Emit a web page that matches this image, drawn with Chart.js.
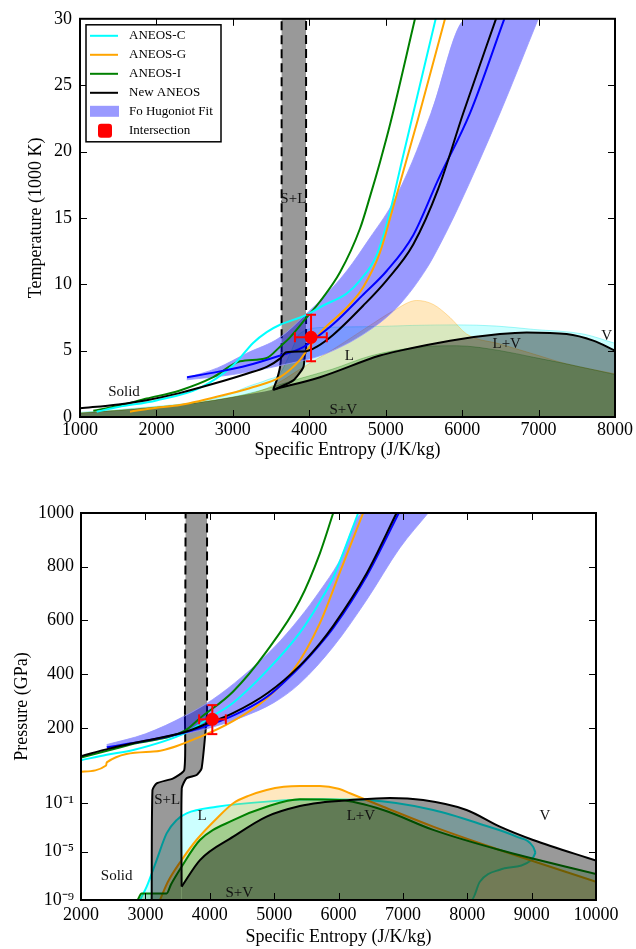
<!DOCTYPE html>
<html>
<head>
<meta charset="utf-8">
<script src="https://cdn.jsdelivr.net/npm/chart.js@4.4.1/dist/chart.umd.min.js"></script>
<style>
html, body { margin: 0; padding: 0; background: #fff; }
#wrap { position: relative; width: 636px; height: 949px; }
canvas { position: absolute; left: 0; }
#top { top: 0; }
#bot { top: 470px; }
</style>
</head>
<body>
<div id="wrap">
  <canvas id="top" width="636" height="470"></canvas>
  <canvas id="bot" width="636" height="479"></canvas>
</div>
<script>
// names + colours
const modelNames = ['ANEOS-C', 'ANEOS-G', 'ANEOS-I', 'New ANEOS'];
const fitName = 'Fo Hugoniot Fit';
const pointName = 'Intersection';
const modelCols = ['#00ffff', '#ffa500', '#008000', '#000000'];
const domeFill = ['rgba(0,255,255,0.2)', 'rgba(255,165,0,0.25)', 'rgba(0,128,0,0.25)', 'rgba(0,0,0,0.4)'];
const domeEdge = ['rgba(0,230,230,0.35)', 'rgba(255,165,0,0.35)', 'rgba(0,128,0,0.3)', 'rgba(0,0,0,0)'];
const fitCol = '#0000ff';
const fitBand = 'rgba(0,0,255,0.4)';
const slGray = 'rgba(0,0,0,0.4)';
const red = '#ff0000';
const xTitle = 'Specific Entropy (J/K/kg)';

// ---------- top panel: T (1000 K) vs S ----------
const tHugC_S = [1218, 1500, 2000, 2570, 3006, 3268, 3443, 3617, 3966, 4183, 4489, 4664, 4882, 5056, 5208, 5654];
const tHugC_T = [0.4, 0.75, 1.25, 2.2, 3.9, 5.6, 6.4, 6.95, 7.7, 8.4, 9.3, 10.3, 12.2, 15.45, 19.2, 30];
const tHugG_S = [1654, 2000, 2308, 2963, 3268, 3617, 3878, 3966, 4183, 4489, 4707, 4925, 5080, 5420, 5776];
const tHugG_T = [0.4, 0.7, 0.9, 1.77, 2.26, 3.0, 4.3, 5.0, 6.6, 8.23, 9.8, 12.4, 15.45, 22.4, 30];
const tHugI_S = [1174, 1500, 1872, 2308, 2744, 3094, 3443, 3617, 3748, 3966, 4140, 4402, 4664, 4794, 4925, 5064, 5383];
const tHugI_T = [0.47, 0.85, 1.39, 2.0, 3.0, 4.2, 4.45, 5.3, 6.0, 7.5, 8.7, 10.9, 14.2, 16.6, 19.2, 22.2, 30];
const tHugN_S = [1000, 1500, 1872, 2300, 2744, 3181, 3450, 3617, 3700, 3958, 4100, 4314, 4707, 5012, 5360, 5688, 6015, 6443];
const tHugN_T = [0.65, 0.95, 1.27, 1.8, 2.5, 3.26, 3.8, 4.4, 4.87, 4.95, 5.3, 6.2, 8.4, 10.3, 13.0, 17.2, 22.9, 30];
const tFit_S = [2400, 2800, 3200, 3600, 3900, 4096, 4314, 4707, 5012, 5360, 5688, 6103, 6552];
const tFit_T = [3.0, 3.4, 3.9, 4.6, 5.2, 6.0, 7.0, 9.23, 11.0, 13.7, 17.9, 22.9, 30];
const tBandHi_S = [2396, 2800, 3181, 3617, 3966, 4183, 4489, 4794, 5080, 5345, 5593, 6059, 6996];
const tBandHi_T = [2.95, 3.7, 4.8, 6.0, 7.8, 9.0, 11.0, 13.5, 16.0, 19.2, 22.9, 30, 30];
const tBandLo_S = [2396, 3000, 3617, 4227, 4838, 5187, 5536, 5710, 5950, 6496, 6996];
const tBandLo_T = [2.8, 3.2, 3.88, 4.8, 6.74, 8.5, 11.2, 13.0, 15.8, 22.9, 30];
// phase regions (filled down to T = 0)
const tDomeC_S = [1000, 1500, 2000, 2500, 2900, 3200, 3450, 3620, 3750, 3880, 4200, 4750, 5350, 5930, 6450, 6930, 7585, 8000];
const tDomeC_T = [0.35, 0.55, 0.8, 1.1, 1.6, 2.3, 2.8, 3.3, 4.8, 6.3, 6.75, 6.8, 6.9, 6.94, 6.85, 6.6, 6.25, 5.55];
const tDomeG_S = [1000, 1500, 2000, 2500, 3000, 3300, 3600, 3878, 4314, 4751, 5100, 5405, 5622, 5841, 6059, 6495, 6931, 7367, 8000];
const tDomeG_T = [0.3, 0.5, 0.75, 1.05, 1.5, 1.85, 2.6, 3.6, 5.1, 6.74, 8.0, 8.78, 8.48, 7.5, 6.25, 5.5, 4.75, 4.0, 3.25];
const tDomeI_S = [1000, 1500, 2000, 2500, 3000, 3300, 3878, 4300, 4800, 5405, 5928, 6495, 6931, 7367, 8000];
const tDomeI_T = [0.3, 0.5, 0.75, 1.05, 1.5, 1.9, 2.9, 3.6, 4.6, 5.25, 5.37, 5.0, 4.5, 4.0, 3.2];
const tDomeN_S = [1000, 1500, 2000, 2500, 3000, 3300, 3530, 4141, 4925, 5187, 5841, 6495, 6844, 7367, 7716, 8000];
const tDomeN_T = [0.3, 0.5, 0.75, 1.05, 1.5, 1.8, 2.07, 3.0, 4.63, 5.0, 5.75, 6.25, 6.37, 6.25, 5.75, 5.0];
// S+L region of New ANEOS (upper and lower outline)
const tSLhi_S = [3530, 3573, 3617, 3638, 3638, 3958];
const tSLhi_T = [2.07, 2.76, 3.75, 4.87, 30, 30];
const tSLlo_S = [3530, 3573, 3791, 3922, 3944, 3958, 3958];
const tSLlo_T = [2.07, 2.14, 2.76, 3.75, 4.75, 4.9, 30];
// intersection point
const tPt = [4023, 6.0];
const tPtErrS = [3812, 4229];
const tPtErrT = [4.2, 7.7];
const topNoteText = ['S+L', 'Solid', 'L', 'S+V', 'L+V', 'V'];
const topNoteS = [3791, 1576, 4524, 4445, 6583, 7891];
const topNoteT = [16.4, 1.9, 4.6, 0.52, 5.5, 6.1];

// ---------- bottom panel: P (GPa) vs S ----------
const pHugC_S = [2000, 2400, 2812, 3615, 4000, 4360, 4900, 5400, 5711, 5918, 6306];
const pHugC_P = [80, 100, 118, 181, 238, 293, 416, 555, 670, 760, 1000];
const pHugG_S = [2000, 2390, 2400, 3123, 3850, 4360, 4883, 5300, 5711, 6022, 6383];
const pHugG_P = [37, 60, 72, 112, 167, 225, 310, 415, 590, 780, 1000];
const pHugI_S = [2000, 2450, 2800, 3615, 3850, 4360, 4883, 5400, 5711, 5918];
const pHugI_P = [90, 118, 140, 190, 237, 335, 485, 675, 850, 1000];
const pHugN_S = [2000, 2450, 2807, 3615, 3950, 4360, 4900, 5400, 5711, 5918, 6436, 6902];
const pHugN_P = [95, 124, 143, 185, 215, 255, 330, 432, 515, 580, 775, 1000];
const pFit_S = [2400, 3000, 3600, 4040, 4500, 4900, 5400, 5711, 5918, 6436, 6937];
const pFit_P = [128, 152, 182, 215, 262, 318, 428, 510, 572, 765, 1000];
const pBandHi_S = [2398, 3000, 3615, 4040, 4500, 5000, 5400, 5711, 6000, 6380, 7393];
const pBandHi_P = [138, 178, 245, 305, 390, 500, 610, 710, 815, 1000, 1000];
const pBandLo_S = [2398, 3000, 3615, 4040, 4500, 5000, 5400, 5918, 6436, 6953, 7393];
const pBandLo_P = [132, 148, 178, 203, 240, 295, 366, 502, 676, 870, 1000];
const pDomeC_S = [2916, 3020, 3175, 3330, 3485, 3640, 4106, 4883, 5711, 6436, 7471, 8247, 8765, 9023, 9060];
const pDomeC_P = [1e-9, 1.26e-8, 2e-6, 3.2e-4, 4e-3, 0.0145, 0.05, 0.135, 0.21, 0.18, 0.0275, 1.6e-3, 1.7e-4, 2.5e-5, 7.9e-6];
const pDomeCLo_S = [2916, 8067, 8196, 8506, 8998, 9060];
const pDomeCLo_P = [1e-9, 1e-9, 3.2e-8, 3.2e-7, 2e-6, 7.9e-6];
const pDomeG_S = [3227, 3350, 3563, 3800, 4100, 4365, 4600, 4883, 5150, 5400, 5711, 6000, 6177, 6694, 7471, 8506, 10000];
const pDomeG_P = [1e-9, 3.2e-8, 2e-6, 1e-4, 5e-3, 0.1, 0.4, 1.23, 2.24, 2.63, 2.63, 1.58, 0.66, 0.051, 1.15e-3, 1.35e-5, 3.2e-8];
const pDomeI_S = [2880, 2942, 3330, 3400, 3563, 3848, 4365, 4883, 5400, 6022, 6694, 7471, 8506, 10000];
const pDomeI_P = [1e-9, 3.5e-9, 3.5e-9, 2e-8, 5.6e-7, 9e-5, 4e-3, 0.051, 0.21, 0.18, 0.0275, 6.2e-4, 1.35e-5, 1.4e-7];
const pDomeN_S = [3563, 3848, 4365, 4883, 5400, 5711, 6177, 6798, 7315, 7989, 8506, 9023, 10000];
const pDomeN_P = [1.26e-8, 2e-6, 1.7e-4, 7.9e-3, 0.059, 0.11, 0.18, 0.27, 0.18, 0.0275, 1.15e-3, 9.1e-5, 1.8e-6];
const pSLhi_S = [3098, 3110, 3175, 3433, 3604, 3615, 3625, 3958];
const pSLhi_P = [1e-9, 1.2, 4.4, 12.6, 43.5, 250, 1000, 1000];
const pSLlo_S = [3098, 3563, 3563, 3565, 3640, 3796, 3874, 3958, 3958];
const pSLlo_P = [1e-9, 1e-9, 1.3e-8, 1.7, 12.6, 25, 50, 250, 1000];
const pPt = [4040, 232];
const pPtErrS = [3835, 4250];
const pPtErrP = [177, 285];
const botNoteText = ['S+L', 'L', 'Solid', 'S+V', 'L+V', 'V'];
const botNoteS = [3340, 3879, 2554, 4458, 6348, 9205];
const botNoteP = [0.18, 0.008, 1e-7, 4e-9, 0.008, 0.0087];
// y axis of the pressure panel: log below 10 GPa, linear above
const pTickVals = [1e-9, 1e-5, 1e-1, 200, 400, 600, 800, 1000];
const pTickText = ['10\u207B\u2079', '10\u207B\u2075', '10\u207B\u00B9', '200', '400', '600', '800', '1000'];
const P_MIN = 1e-9, P_BREAK = 10, P_MAX = 1000, LOG_FRAC = 121 / 387;

class BrokenScale extends Chart.LinearScale {
  determineDataLimits() { this.min = P_MIN; this.max = P_MAX; }
  buildTicks() { return pTickVals.map(v => ({ value: v })); }
  getPixelForValue(v) {
    const h = this.bottom - this.top, hl = h * LOG_FRAC;
    if (v <= P_BREAK) {
      const lv = Math.log10(Math.max(v, P_MIN / 1000));
      const lo = Math.log10(P_MIN), hi = Math.log10(P_BREAK);
      return this.bottom - (lv - lo) / (hi - lo) * hl;
    }
    return this.bottom - hl - (v - P_BREAK) / (P_MAX - P_BREAK) * (h - hl);
  }
  getValueForPixel(px) {
    const h = this.bottom - this.top, hl = h * LOG_FRAC, d = this.bottom - px;
    const lo = Math.log10(P_MIN), hi = Math.log10(P_BREAK);
    if (d <= hl) return Math.pow(10, lo + d / hl * (hi - lo));
    return P_BREAK + (d - hl) / (h - hl) * (P_MAX - P_BREAK);
  }
}
BrokenScale.id = 'broken';
BrokenScale.defaults = {};
Chart.register(BrokenScale);

Chart.defaults.font.family = '"Liberation Serif", "Times New Roman", serif';
Chart.defaults.color = '#000';

const pts = (xs, ys) => xs.map((x, i) => ({ x: x, y: ys[i] }));
const smooth = { cubicInterpolationMode: 'monotone' };

function fillSet(xs, ys, bg, edge, order, extra) {
  return Object.assign({ data: pts(xs, ys), backgroundColor: bg, borderColor: edge, borderWidth: 1,
    fill: 'start', pointRadius: 0, cubicInterpolationMode: 'monotone', order: order }, extra || {});
}
function lineSet(xs, ys, color, width, order, extra) {
  return Object.assign({ data: pts(xs, ys), borderColor: color, borderWidth: width, fill: false,
    pointRadius: 0, cubicInterpolationMode: 'monotone', order: order }, extra || {});
}
function errSets(px, py, ex, ey) {
  return [
    lineSet(ex, [py, py], red, 2, 3, { cubicInterpolationMode: 'default', tension: 0, pointStyle: 'line', pointRadius: 5, pointBorderColor: red, pointBorderWidth: 2, pointRotation: 90 }),
    lineSet([px, px], ey, red, 2, 2, { cubicInterpolationMode: 'default', tension: 0, pointStyle: 'line', pointRadius: 5, pointBorderColor: red, pointBorderWidth: 2, pointRotation: 0 }),
    { label: pointName, data: [{ x: px, y: py }], showLine: false, pointRadius: 6.5, pointBackgroundColor: red, pointBorderColor: red, pointBorderWidth: 0, order: 1 }
  ];
}
const straight = extra => Object.assign({ cubicInterpolationMode: 'default', tension: 0 }, extra || {});

// inward ticks on all four sides + frame
const frame = {
  id: 'frame',
  afterDatasetsDraw(chart) {
    const { ctx, chartArea: a, scales: { x, y } } = chart;
    ctx.save();
    ctx.strokeStyle = '#000';
    ctx.lineWidth = 1;
    ctx.beginPath();
    x.ticks.forEach(t => {
      const p = Math.round(x.getPixelForValue(t.value)) + 0.5;
      if (p < a.left + 2 || p > a.right - 2) return;
      ctx.moveTo(p, a.bottom); ctx.lineTo(p, a.bottom - 7);
      ctx.moveTo(p, a.top); ctx.lineTo(p, a.top + 7);
    });
    y.ticks.forEach(t => {
      const p = Math.round(y.getPixelForValue(t.value)) + 0.5;
      if (p < a.top + 2 || p > a.bottom - 2) return;
      ctx.moveTo(a.left, p); ctx.lineTo(a.left + 7, p);
      ctx.moveTo(a.right, p); ctx.lineTo(a.right - 7, p);
    });
    ctx.stroke();
    ctx.lineWidth = 2;
    ctx.strokeRect(a.left, a.top, a.right - a.left, a.bottom - a.top);
    ctx.restore();
  }
};

// region labels
const notes = {
  id: 'notes',
  afterDatasetsDraw(chart, args, opt) {
    const { ctx, scales: { x, y } } = chart;
    ctx.save();
    ctx.font = '15px "Liberation Serif", serif';
    ctx.fillStyle = '#111';
    ctx.textAlign = 'center';
    ctx.textBaseline = 'middle';
    opt.text.forEach((t, i) => ctx.fillText(t, x.getPixelForValue(opt.xs[i]), y.getPixelForValue(opt.ys[i])));
    ctx.restore();
  }
};

const legendBox = {
  id: 'legendBox',
  afterDraw(chart) {
    const { ctx, chartArea: a } = chart;
    const x0 = a.left + 6, y0 = a.top + 6, w = 135, h = 117, row = 19;
    ctx.save();
    ctx.fillStyle = '#fff';
    ctx.fillRect(x0, y0, w, h);
    ctx.strokeStyle = '#000';
    ctx.lineWidth = 1.5;
    ctx.strokeRect(x0, y0, w, h);
    ctx.font = '13px "Liberation Serif", serif';
    ctx.textBaseline = 'middle';
    ctx.textAlign = 'left';
    const names = modelNames.concat([fitName, pointName]);
    names.forEach((n, i) => {
      const yy = y0 + 11 + i * row;
      if (i < 4) {
        ctx.strokeStyle = modelCols[i];
        ctx.lineWidth = 2;
        ctx.beginPath(); ctx.moveTo(x0 + 4, yy); ctx.lineTo(x0 + 32, yy); ctx.stroke();
      } else if (i === 4) {
        ctx.fillStyle = fitBand;
        ctx.fillRect(x0 + 4, yy - 6, 29, 11);
      } else {
        ctx.fillStyle = red;
        ctx.beginPath();
        ctx.roundRect(x0 + 12, yy - 7, 14, 14, 3);
        ctx.fill();
      }
      ctx.fillStyle = '#000';
      ctx.fillText(n, x0 + 43, yy);
    });
    ctx.restore();
  }
};

function axes(xMin, xMax, xH, xPadB, yOpts, yW, yTitle, yPadT, tickPad) {
  return {
    x: { type: 'linear', min: xMin, max: xMax,
      ticks: { stepSize: 1000, font: { size: 18 }, padding: tickPad, maxRotation: 0, autoSkip: false, callback: v => String(v) },
      grid: { display: false, drawTicks: false }, border: { display: false },
      title: { display: true, text: xTitle, font: { size: 18 }, padding: { top: 0, bottom: xPadB } },
      afterFit: s => { s.height = xH; } },
    y: Object.assign({
      grid: { display: false, drawTicks: false }, border: { display: false },
      title: { display: true, text: yTitle, font: { size: 18 }, padding: { top: yPadT, bottom: 0 } },
      afterFit: s => { s.width = yW; } }, yOpts)
  };
}

// ---------- top chart ----------
const topSets = [
  fillSet(tDomeC_S, tDomeC_T, domeFill[0], domeEdge[0], 40),
  fillSet(tDomeG_S, tDomeG_T, domeFill[1], domeEdge[1], 39),
  fillSet(tDomeI_S, tDomeI_T, domeFill[2], domeEdge[2], 38),
  fillSet(tDomeN_S, tDomeN_T, domeFill[3], domeEdge[3], 37, { borderWidth: 0 }),
  lineSet(tDomeN_S.slice(6), tDomeN_T.slice(6), '#000', 2, 36),
  // S+L band: fill between the two outlines
  { data: pts(tSLhi_S, tSLhi_T), fill: '+1', backgroundColor: slGray, borderWidth: 0, pointRadius: 0, tension: 0, order: 35 },
  { data: pts(tSLlo_S, tSLlo_T), fill: false, borderWidth: 0, pointRadius: 0, tension: 0, order: 34 },
  lineSet(tSLhi_S.slice(0, 4).reverse().concat(tSLlo_S.slice(1, 6)), tSLhi_T.slice(0, 4).reverse().concat(tSLlo_T.slice(1, 6)), '#000', 2, 33, straight({ tension: 0.2 })),
  lineSet([tSLhi_S[3], tSLhi_S[4]], [tSLhi_T[3], tSLhi_T[4]], '#000', 2, 32, straight({ borderDash: [9, 5] })),
  lineSet([tSLlo_S[5], tSLlo_S[6]], [tSLlo_T[5], tSLlo_T[6]], '#000', 2, 31, straight({ borderDash: [9, 5] })),
  // Hugoniot fit band
  Object.assign({ label: fitName, data: pts(tBandHi_S, tBandHi_T), fill: '+1', backgroundColor: fitBand, borderColor: 'rgba(150,150,255,0.8)', borderWidth: 1, pointRadius: 0, order: 30 }, smooth),
  lineSet(tBandLo_S, tBandLo_T, 'rgba(150,150,255,0.8)', 1, 29),
  lineSet(tHugI_S, tHugI_T, modelCols[2], 2, 9, { label: modelNames[2] }),
  lineSet(tHugC_S, tHugC_T, modelCols[0], 2, 8, { label: modelNames[0] }),
  lineSet(tHugG_S, tHugG_T, modelCols[1], 2, 7, { label: modelNames[1] }),
  lineSet(tFit_S, tFit_T, fitCol, 2, 6),
  lineSet(tHugN_S, tHugN_T, modelCols[3], 2, 5, { label: modelNames[3] })
].concat(errSets(tPt[0], tPt[1], tPtErrS, tPtErrT));

new Chart(document.getElementById('top'), {
  type: 'line',
  data: { datasets: topSets },
  options: {
    responsive: false, animation: false, events: [],
    layout: { padding: { left: 0, right: 21, top: 15, bottom: 0 } },
    plugins: { legend: { display: false }, tooltip: { enabled: false },
      notes: { text: topNoteText, xs: topNoteS, ys: topNoteT } },
    scales: axes(1000, 8000, 53, 9,
      { type: 'linear', min: 0, max: 30, ticks: { stepSize: 5, font: { size: 18 }, padding: 8, callback: v => String(v) } },
      80, 'Temperature (1000 K)', 25, 2)
  },
  plugins: [notes, frame, legendBox]
});

// ---------- bottom chart ----------
const botSets = [
  // cyan dome: fill between upper outline and lower branch
  Object.assign({ data: pts(pDomeC_S, pDomeC_P), fill: '+1', backgroundColor: domeFill[0], borderColor: modelCols[0], borderWidth: 2, pointRadius: 0, order: 40 }, smooth),
  lineSet(pDomeCLo_S, pDomeCLo_P, modelCols[0], 2, 39),
  fillSet(pDomeG_S, pDomeG_P, domeFill[1], modelCols[1], 38, { borderWidth: 2 }),
  fillSet(pDomeI_S, pDomeI_P, domeFill[2], modelCols[2], 37, { borderWidth: 2 }),
  fillSet(pDomeN_S, pDomeN_P, domeFill[3], '#000', 36, { borderWidth: 2 }),
  { data: pts(pSLhi_S, pSLhi_P), fill: '+1', backgroundColor: slGray, borderWidth: 0, pointRadius: 0, tension: 0, order: 35 },
  { data: pts(pSLlo_S, pSLlo_P), fill: false, borderWidth: 0, pointRadius: 0, tension: 0, order: 34 },
  lineSet(pSLhi_S.slice(0, 6), pSLhi_P.slice(0, 6), '#000', 2, 33, straight({ tension: 0.2 })),
  lineSet(pSLlo_S.slice(2, 8), pSLlo_P.slice(2, 8), '#000', 2, 32, straight({ tension: 0.2 })),
  lineSet(pSLhi_S.slice(5, 7), pSLhi_P.slice(5, 7), '#000', 2, 31, straight({ borderDash: [9, 5] })),
  lineSet(pSLlo_S.slice(7, 9), pSLlo_P.slice(7, 9), '#000', 2, 30, straight({ borderDash: [9, 5] })),
  Object.assign({ data: pts(pBandHi_S, pBandHi_P), fill: '+1', backgroundColor: fitBand, borderColor: 'rgba(150,150,255,0.8)', borderWidth: 1, pointRadius: 0, order: 29 }, smooth),
  lineSet(pBandLo_S, pBandLo_P, 'rgba(150,150,255,0.8)', 1, 28),
  lineSet(pHugI_S, pHugI_P, modelCols[2], 2, 9),
  lineSet(pHugC_S, pHugC_P, modelCols[0], 2, 8),
  lineSet(pHugG_S, pHugG_P, modelCols[1], 2, 7),
  lineSet(pFit_S, pFit_P, fitCol, 2, 6),
  lineSet(pHugN_S, pHugN_P, modelCols[3], 2, 5)
].concat(errSets(pPt[0], pPt[1], pPtErrS, pPtErrP));

new Chart(document.getElementById('bot'), {
  type: 'line',
  data: { datasets: botSets },
  options: {
    responsive: false, animation: false, events: [],
    layout: { padding: { left: 0, right: 40, top: 43, bottom: 0 } },
    plugins: { legend: { display: false }, tooltip: { enabled: false },
      notes: { text: botNoteText, xs: botNoteS, ys: botNoteP } },
    scales: axes(2000, 10000, 49, 1,
      { type: 'broken', ticks: { font: { size: 18 }, padding: 7, autoSkip: false,
        callback: v => pTickText[pTickVals.indexOf(v)] } },
      81, 'Pressure (GPa)', 11, 4)
  },
  plugins: [notes, frame]
});
</script>
</body>
</html>
